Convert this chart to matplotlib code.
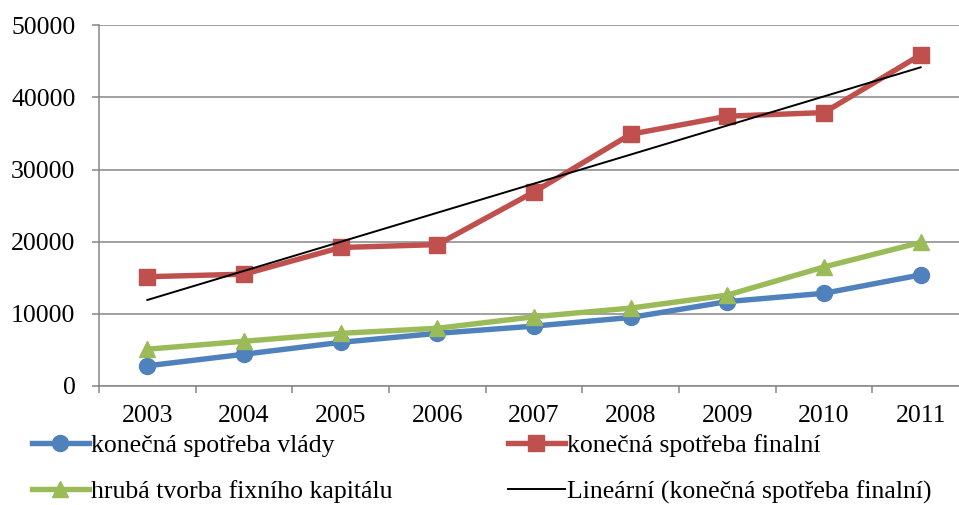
import numpy as np
import matplotlib.pyplot as plt

plt.rcParams['font.family'] = ['Liberation Serif', 'DejaVu Serif']

years = ['2003', '2004', '2005', '2006', '2007', '2008', '2009', '2010', '2011']
vlady = [2800, 4400, 6050, 7300, 8300, 9500, 11700, 12850, 15400]
finalni = [15150, 15500, 19200, 19600, 26900, 34900, 37400, 37900, 45900]
kapital = [5100, 6200, 7300, 8000, 9600, 10800, 12600, 16500, 19900]

labels = ['konečná spotřeba vlády', 'konečná spotřeba finalní',
          'hrubá tvorba fixního kapitálu', 'Lineární (konečná spotřeba finalní)']

blue = '#4F81BD'
red = '#C0504D'
green = '#9BBB59'
grey = '#868686'

fig = plt.figure(figsize=(9.59, 5.05), dpi=100)
ax = fig.add_axes([99 / 959, 1 - 386 / 505, 870 / 959, (386 - 25.3) / 505])

x = np.arange(len(years))
l1, = ax.plot(x, vlady, color=blue, lw=3.9, marker='o', ms=11.5, zorder=3)
l2, = ax.plot(x, finalni, color=red, lw=3.9, marker='s', ms=11, zorder=3)
l3, = ax.plot(x, kapital, color=green, lw=3.9, marker='^', ms=11.5, zorder=3)

# linear trend of the "finalni" series (Excel-style trendline)
k, q = np.polyfit(x, finalni, 1)
l4, = ax.plot(x, k * x + q, color='black', lw=1.4, zorder=4)

ax.set_xlim(-0.5, len(years) - 0.5)
ax.set_ylim(0, 50000)
ax.set_yticks(np.arange(0, 50001, 10000))
ax.set_xticks(x)
ax.set_xticklabels(years)
ax.set_xticks(np.arange(-0.5, len(years)), minor=True)
ax.tick_params(axis='x', which='major', length=0, pad=14, labelsize=18.5)
ax.tick_params(axis='x', which='minor', length=5, width=1.1, color=grey)
ax.tick_params(axis='y', length=5, width=1.1, color=grey, pad=12, labelsize=18.5)
ax.grid(axis='y', color=grey, lw=1.1)
ax.set_axisbelow(True)
for s in ['top', 'right']:
    ax.spines[s].set_visible(False)
for s in ['left', 'bottom']:
    ax.spines[s].set_color(grey)
    ax.spines[s].set_linewidth(1.1)

# matplotlib fills legend column by column
fig.legend([l1, l3, l2, l4], [labels[0], labels[2], labels[1], labels[3]],
           ncol=2, loc='upper left',
           bbox_to_anchor=(32 / 959, 1 - 434 / 505), frameon=False,
           fontsize=18.5, handlelength=2.2, handletextpad=0.1,
           columnspacing=4.5, labelspacing=0.9, borderaxespad=0, borderpad=0)

fig.savefig('out.png', dpi=100)
